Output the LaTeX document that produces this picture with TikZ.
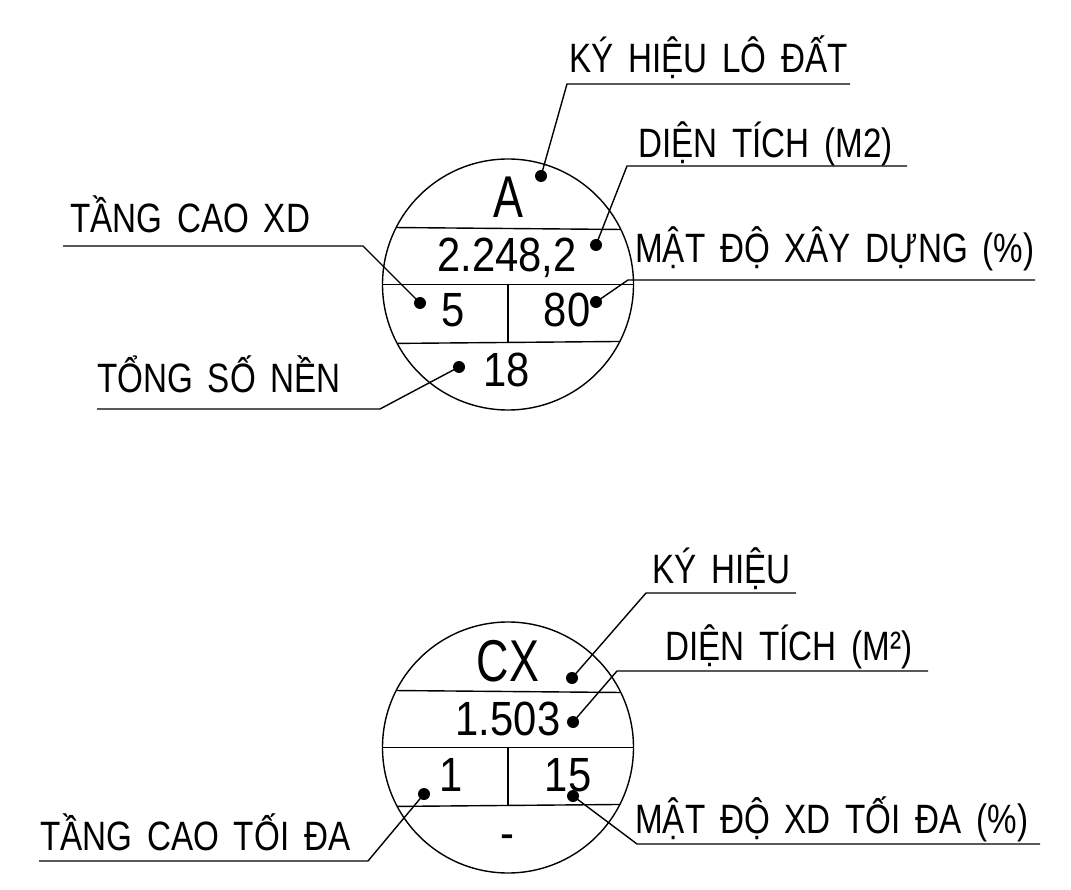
\documentclass[tikz,border=0pt]{standalone}
\usepackage{fontspec}
\setmainfont{Liberation Sans}
\newfontfamily\lblfont[FakeStretch=0.81,WordSpace=1.6]{Liberation Sans}
\newfontfamily\numfont[FakeStretch=0.87]{Liberation Sans}
\newfontfamily\bigfont[FakeStretch=0.76]{Liberation Sans}
\begin{document}
\begin{tikzpicture}[x=1pt,y=-1pt,
  lbl/.style={inner sep=0, anchor=base west, font=\lblfont\fontsize{41}{41}\selectfont},
  num/.style={inner sep=0, anchor=base, font=\numfont\fontsize{48}{48}\selectfont},
  big/.style={inner sep=0, anchor=base, font=\bigfont\fontsize{59}{59}\selectfont},
  dot/.style={circle, fill=black, inner sep=0, minimum size=12pt},
  ring/.style={circle, draw=black, line width=1.4pt, inner sep=0, outer sep=0, minimum size=251pt},
  ln/.style={line width=1.4pt, line join=round}]
\useasboundingbox (0,0) rectangle (1071,890);

% ---------- top symbol ----------
\node[ring] (c1) at (508,284.5) {};
\draw[ln] (c1.153.75) -- (c1.26.25);
\draw[ln] (c1.180) -- (c1.0);
\draw[ln] (c1.-152.73) -- (c1.-27.27);
\coordinate (v1a) at (508,284.5);
\coordinate (v1b) at (508,342);
\draw[ln] (v1a) -- (v1b);

\node[big] (tA) at (508,218) {A};
\node[num] (tArea) at (507,272) {2.248,2};
\node[num] (tFl) at (453,327) {5};
\node[num] (tDen) at (567,327) {80};
\node[num] (tLots) at (507,387) {18};

\node[dot] (d1) at (541,176) {};
\node[dot] (d2) at (596,245) {};
\node[dot] (d3) at (596,302) {};
\node[dot] (d4) at (420,303) {};
\node[dot] (d5) at (459,367) {};

\node[lbl] (l1) at (569,73) {KÝ HIỆU LÔ ĐẤT};
\node[lbl] (l2) at (638,158) {DIỆN TÍCH (M2)};
\node[lbl] (l3) at (635,263) {MẬT ĐỘ XÂY DỰNG (\%)};
\node[lbl] (l4) at (70,233) {TẦNG CAO XD};
\node[lbl] (l5) at (97,393) {TỔNG SỐ NỀN};

\coordinate (u1a) at (567,84);  \coordinate (u1b) at (850,84);
\coordinate (u2a) at (627,166); \coordinate (u2b) at (907,166);
\coordinate (u3a) at (628,280); \coordinate (u3b) at (1035,280);
\coordinate (u4a) at (363,246); \coordinate (u4b) at (63,246);
\coordinate (u5a) at (380,409); \coordinate (u5b) at (97,409);

\draw[ln] (u1b) -- (u1a) -- (d1.center);
\draw[ln] (u2b) -- (u2a) -- (d2.center);
\draw[ln] (u3b) -- (u3a) -- (d3.center);
\draw[ln] (u4b) -- (u4a) -- (d4.center);
\draw[ln] (u5b) -- (u5a) -- (d5.center);

% ---------- bottom symbol ----------
\node[ring] (c2) at (508,747.5) {};
\draw[ln] (c2.153.75) -- (c2.26.25);
\draw[ln] (c2.180) -- (c2.0);
\draw[ln] (c2.-152.2) -- (c2.-27.8);
\coordinate (v2a) at (508,747.5);
\coordinate (v2b) at (508,806);
\draw[ln] (v2a) -- (v2b);

\node[big] (tCX) at (508,681) {CX};
\node[num] (tArea2) at (508,735) {1.503};
\node[num] (tFl2) at (451,791) {1};
\node[num] (tDen2) at (568,791) {15};
\node[num] (tDash) at (507,849) {-};

\node[dot] (d6) at (572,678) {};
\node[dot] (d7) at (573,722) {};
\node[dot] (d8) at (573,796) {};
\node[dot] (d9) at (424,794) {};

\node[lbl] (l6) at (652,583) {KÝ HIỆU};
\node[lbl] (l7) at (665,660) {DIỆN TÍCH (M²)};
\node[lbl] (l8) at (635,833) {MẬT ĐỘ XD TỐI ĐA (\%)};
\node[lbl] (l9) at (40,850) {TẦNG CAO TỐI ĐA};

\coordinate (u6a) at (646,593); \coordinate (u6b) at (796,593);
\coordinate (u7a) at (617,671); \coordinate (u7b) at (928,671);
\coordinate (u8a) at (637,844); \coordinate (u8b) at (1040,844);
\coordinate (u9a) at (368,861); \coordinate (u9b) at (39,861);

\draw[ln] (u6b) -- (u6a) -- (d6.center);
\draw[ln] (u7b) -- (u7a) -- (d7.center);
\draw[ln] (u8b) -- (u8a) -- (d8.center);
\draw[ln] (u9b) -- (u9a) -- (d9.center);
\end{tikzpicture}
\end{document}
